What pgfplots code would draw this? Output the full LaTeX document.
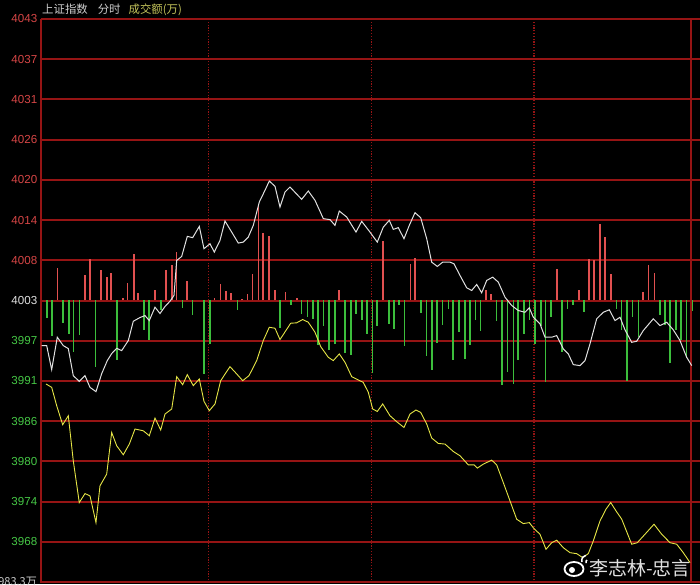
\documentclass[border=0pt]{standalone}
\usepackage{pgfplots}
\pgfplotsset{compat=1.18}
\usepackage{fontspec}
\setmainfont{Liberation Sans}
\newfontfamily\cjk{Noto Sans CJK SC}

\definecolor{gridred}{RGB}{150,20,20}
\definecolor{barred}{RGB}{225,80,80}
\definecolor{bargreen}{RGB}{60,190,60}
\definecolor{lblred}{RGB}{215,70,70}
\definecolor{lblgreen}{RGB}{70,200,70}
\definecolor{lblwhite}{RGB}{225,225,225}
\definecolor{linewhite}{RGB}{225,225,225}
\definecolor{lineyellow}{RGB}{230,230,70}
\definecolor{titlegray}{RGB}{205,205,205}
\definecolor{titleyellow}{RGB}{195,195,90}

% minutes since 9:30 (trading time), index points
\pgfplotstableread{
m price
-1.6 3996.59
0.26 3996.59
2.1 3993.18
4.17 3997.78
6.38 3996.59
8.23 3996.17
10.07 3992.32
12.28 3991.51
14.39 3992.32
16.23 3990.66
18.44 3990.05
20.55 3992.61
22.61 3994.46
24.23 3995.46
26.08 3996.21
27.92 3995.88
30.36 3997.31
32.2 4000.05
34.67 4000.58
36.52 4000.86
38.1 4000.15
40.21 4002.05
42.05 4001.15
43.9 4002.15
45.74 4002.9
47.21 4003.71
48.21 4008.69
50.05 4009.26
52.12 4012.11
54.11 4011.93
56.55 4013.53
58.28 4010.36
60.49 4011.07
62.08 4009.88
64.18 4011.54
66.03 4014.29
68.5 4012.72
70.93 4011.16
72.78 4011.30
74.62 4012.01
76.47 4013.68
78.68 4016.99
80.78 4018.66
82.37 4019.98
84.47 4019.23
86.31 4016.28
88.16 4018.42
90.0 4019.13
92.2 4018.23
94.32 4017.38
96.75 4018.56
99.22 4017.24
102.3 4014.63
104.76 4014.49
106.6 4013.68
108.19 4015.71
110.92 4014.86
114.35 4012.72
116.45 4014.25
119.51 4012.72
122.2 4011.30
124.42 4013.43
126.63 4014.39
128.11 4013.11
129.95 4013.35
132.05 4011.78
134.01 4013.68
136.11 4015.48
138.21 4014.77
140.43 4011.78
142.27 4008.45
144.34 4007.84
146.33 4008.45
149.02 4008.45
150.49 4008.22
152.71 4006.56
155.18 4004.81
157.02 4004.42
158.87 4005.28
160.71 4004.10
162.56 4005.85
164.77 4006.32
166.84 4005.61
169.31 4003.47
171.78 4002.29
174.21 4001.58
176.69 4001.33
178.27 4001.96
179.75 4000.62
182.22 3999.68
184.06 3997.78
186.53 3997.78
188.38 3998.02
190.81 3996.12
192.66 3995.41
194.5 3993.89
196.97 3993.75
198.82 3994.46
200.66 3996.84
203.13 4000.40
205.57 4001.33
207.78 4001.68
209.88 4000.15
211.73 4000.62
213.57 3998.83
216.04 3997.06
217.89 3997.21
220.32 3998.73
224.01 4000.40
226.48 3999.44
228.95 3999.91
231.39 3998.83
233.86 3997.31
236.33 3994.93
238.18 3993.75
}\whiteline

\pgfplotstableread{
m price
0 3991.14
2.1 3990.66
3.95 3988.05
6.16 3985.35
8.23 3986.63
10.07 3980.22
12.28 3974.29
14.39 3975.57
16.23 3975.24
18.44 3971.44
19.92 3976.67
22.39 3978.33
24.23 3984.25
26.08 3982.36
28.51 3981.08
30.73 3982.60
32.83 3984.74
35.89 3984.49
38.1 3983.78
40.21 3986.30
42.31 3984.59
43.9 3986.87
46.37 3987.58
48.21 3992.18
50.42 3991.04
52.12 3992.47
54.33 3990.90
56.55 3991.85
58.28 3988.67
60.24 3987.34
62.34 3988.30
64.44 3991.61
67.87 3993.60
70.34 3992.57
72.56 3991.61
74.88 3992.32
77.72 3994.46
80.15 3997.31
82.37 3999.20
84.47 3999.06
86.31 3997.45
90.26 3999.77
92.47 3999.83
94.69 4000.30
96.75 3999.91
99.22 3998.49
101.33 3996.45
104.13 3994.93
105.97 3994.46
108.19 3995.41
110.29 3994.22
112.76 3992.18
115.2 3991.71
117.04 3991.37
118.89 3989.95
120.51 3987.58
122.2 3987.24
124.2 3988.30
126.89 3986.63
129.36 3985.78
132.05 3984.96
134.27 3986.87
136.48 3987.44
138.21 3987.10
140.43 3985.45
142.27 3983.46
144.71 3982.69
147.18 3982.60
150.24 3981.55
152.71 3980.94
155.77 3979.65
157.87 3979.65
159.09 3979.18
161.3 3979.75
164.4 3980.32
166.24 3979.65
168.68 3977.13
171.15 3974.53
173.62 3971.93
176.06 3971.30
178.27 3971.44
180.0 3970.59
182.22 3969.79
184.43 3967.65
186.53 3968.59
188.38 3968.94
190.81 3967.88
193.28 3967.17
195.75 3967.03
197.97 3966.46
200.03 3967.03
201.88 3968.84
204.35 3971.68
206.56 3973.35
208.3 3974.29
210.25 3973.11
212.36 3971.93
216.04 3968.37
218.11 3968.59
220.95 3969.79
224.27 3971.21
227.11 3969.79
230.17 3968.59
232.64 3968.37
235.08 3967.17
237.55 3965.75
}\yellowline

% buy/sell strength bars (relative units)
\pgfplotstableread{
m v
4.3 32.7
14.4 25
16.2 41
20.2 30.7
22.4 23.3
24.0 27.7
28.3 2
30.1 17.3
32.5 46
34.0 7.3
40.2 10
44.3 30.7
46.4 35
48.2 48.3
52.1 19.3
62.1 2.7
64.3 16
66.3 9
68.2 7.3
72.2 1
74.4 6.7
76.2 26
78.4 95
80.0 67.7
82.3 64
84.5 10
88.4 8.3
92.5 2.3
108.1 10
124.4 59
134.5 36
136.1 42.3
162.4 10.7
164.1 6
188.4 31
196.5 10
200.4 41.7
202.2 40
204.4 76.7
206.2 63.3
208.3 26.7
220.1 8.3
222.3 35
224.4 27.7
}\redbars

\pgfplotstableread{
m v
0.3 -17.3
2.2 -35.7
6.2 -22.7
8.4 -34
10.1 -51.7
12.3 -35
18.3 -66.7
26.3 -60
36.1 -30
38.1 -40
42.4 -10
50.3 -7.3
54.1 -15
58.3 -74
60.5 -43.3
70.6 -9.3
86.3 -27.7
90.3 -4.3
94.3 -13.3
96.4 -16.7
98.4 -18.3
100.4 -44.3
102.3 -25.7
104.4 -49.3
106.5 -44
110.3 -52.7
112.4 -55
114.3 -13.3
116.5 -19.3
118.3 -33.3
120.4 -72.3
122.2 -25.7
126.6 -23.3
128.4 -28.3
130.3 -5
132.2 -45.7
138.3 -12.3
140.4 -56
142.3 -70
144.3 -42.7
146.2 -25
148.4 -8.3
150.2 -60
152.3 -31.7
154.5 -58.3
156.4 -45
158.5 -19.3
160.3 -30.7
166.2 -20.7
168.3 -84
170.3 -71.7
172.4 -83.3
174.2 -59.3
176.3 -33.3
178.3 -19.3
180.4 -44
182.5 -26
184.3 -81
186.3 -16.7
190.4 -51.7
192.3 -8.3
194.3 -4.3
198.4 -11.7
210.5 -8.3
212.3 -30
214.4 -80.7
216.4 -16.7
218.5 -36.7
226.5 -15
228.3 -25
230.2 -62.7
232.3 -30
234.2 -39.3
236.3 -57.3
238.5 -10.7
}\greenbars

\pgfplotsset{
  panel/.style={at={(41pt,1pt)}, anchor=south west, scale only axis,
    width=659pt, height=564pt, xmin=-1.84, xmax=241.24},
}

\begin{document}
\begin{tikzpicture}
\useasboundingbox (0,0) rectangle (700pt,584pt);
\fill[black] (0,0) rectangle (700pt,584pt);

% grid and price labels
\begin{axis}[panel,
  ymin=3962.86, ymax=4043.0,
  axis line style={draw=none}, major tick length=0pt,
  major grid style={draw=gridred, line width=2pt},
  xtick={60,120,180}, xticklabels={},
  xmajorgrids, x grid style={draw=gridred, line width=1.5pt, dash pattern=on 1.2pt off 1.6pt},
  ytick={3963.0,3968.71,3974.43,3980.14,3985.86,3991.57,3997.29,4003,
         4008.71,4014.43,4020.14,4025.86,4031.57,4037.29,4043.0},
  yticklabels={,
    \textcolor{lblgreen}{3968},\textcolor{lblgreen}{3974},\textcolor{lblgreen}{3980},
    \textcolor{lblgreen}{3986},\textcolor{lblgreen}{3991},\textcolor{lblgreen}{3997},
    \textcolor{lblwhite}{4003},
    \textcolor{lblred}{4008},\textcolor{lblred}{4014},\textcolor{lblred}{4020},
    \textcolor{lblred}{4026},\textcolor{lblred}{4031},\textcolor{lblred}{4037},
    \textcolor{lblred}{4043}},
  ymajorgrids, y grid style={draw=gridred, line width=2pt},
  yticklabel style={font=\fontsize{11.6}{12}\selectfont, inner sep=0pt, anchor=east, xshift=-3.5pt},
]
\end{axis}

\draw[gridred, line width=2pt] (41pt,1pt) -- (41pt,565pt);
\draw[gridred, line width=2pt] (691pt,1pt) -- (691pt,565pt);

% bars around the 4003 line
\begin{axis}[panel, ymin=-282.5, ymax=281.5, hide axis]
\addplot[ycomb, barred, line width=1.6pt, mark=none] table[x=m, y=v] {\redbars};
\addplot[ycomb, bargreen, line width=1.6pt, mark=none] table[x=m, y=v] {\greenbars};
\end{axis}

% price lines
\begin{axis}[panel, ymin=3962.86, ymax=4043.0, hide axis]
\addplot[lineyellow, line width=0.9pt, mark=none] table[x=m, y=price] {\yellowline};
\addplot[linewhite, line width=1pt, mark=none] table[x=m, y=price] {\whiteline};
\end{axis}

% title
\node[anchor=west, inner sep=0pt, text=titlegray, font=\cjk\fontsize{11.4}{12}\selectfont]
  at (42pt,574pt) {上证指数\hspace{10pt}分时\hspace{8pt}\textcolor{titleyellow}{成交额(万)}};

% scale label at the bottom edge (cut by the frame, as in the source)
\node[anchor=north east, inner sep=0pt, text=titlegray, font=\cjk\fontsize{11}{12}\selectfont]
  at (37pt,7pt) {983.3万};

% watermark
\draw[white, line width=1.8pt] (574pt,15pt) ellipse (9.5pt and 7pt);
\fill[white] (572pt,14pt) circle (3pt);
\draw[white, line width=1.5pt] (582pt,22pt) arc (200:100:5pt);
\draw[white, line width=1.5pt] (586pt,21pt) arc (200:120:2.5pt);
\node[anchor=east, inner sep=0pt, text=lblwhite, font=\cjk\fontsize{19}{20}\selectfont]
  at (691pt,16pt) {李志林-忠言};
\end{tikzpicture}
\end{document}
